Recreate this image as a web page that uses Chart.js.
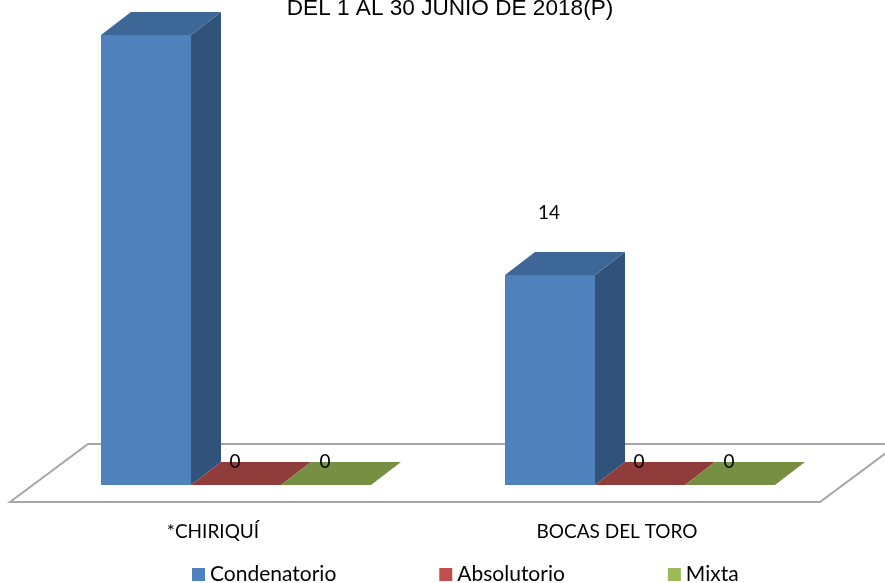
<!DOCTYPE html>
<html>
<head>
<meta charset="utf-8">
<title>Sentencias</title>
<style>
  html, body { margin: 0; padding: 0; background: #fff; overflow: hidden; }
  canvas { display: block; }
</style>
<script src="https://cdn.jsdelivr.net/npm/chart.js@4/dist/chart.umd.min.js"></script>
</head>
<body>
<canvas id="chart" width="885" height="583"></canvas>
<script>
const titleText = 'DEL 1 AL 30 JUNIO DE 2018(P)';
const categories = ['*CHIRIQUÍ', 'BOCAS DEL TORO'];
const seriesNames = ['Condenatorio', 'Absolutorio', 'Mixta'];
const condenatorio = [30, 14];
const absolutorio = [0, 0];
const mixta = [0, 0];

const legendColors = ['#4F81BD', '#C0504D', '#9BBB59'];
const sideColors = ['#31527A', '#7A3230', '#5F7A37'];
const topColors = ['#3D6797', '#8F3C3B', '#768F43'];

const LABEL_FONT = '19px Lato, Carlito, sans-serif';
const LEGEND_FONT = '21px Lato, Carlito, sans-serif';
const DEPTH_X = 30;
const DEPTH_Y = 23;

function poly(ctx, pts, fill) {
  ctx.beginPath();
  pts.forEach((p, i) => i ? ctx.lineTo(p[0], p[1]) : ctx.moveTo(p[0], p[1]));
  ctx.closePath();
  if (fill) {
    ctx.fillStyle = fill;
    ctx.fill();
  }
}

// floor plate and the 3d faces behind the bars
const box3d = {
  id: 'box3d',
  beforeDatasetsDraw(chart) {
    const { ctx, chartArea: a } = chart;
    ctx.save();
    poly(ctx, [
      [a.left - 24, a.bottom + 17],
      [a.left + 54, a.bottom - 41],
      [a.right + 56, a.bottom - 41],
      [a.right - 22, a.bottom + 17],
    ], '#fff');
    ctx.strokeStyle = '#A6A6A6';
    ctx.lineWidth = 2;
    ctx.stroke();

    chart.data.datasets.forEach((ds, i) => {
      chart.getDatasetMeta(i).data.forEach(bar => {
        const l = bar.x - bar.width / 2;
        const r = bar.x + bar.width / 2;
        const t = bar.y;
        const b = bar.base;
        poly(ctx, [[r, t], [r + DEPTH_X, t - DEPTH_Y], [r + DEPTH_X, b - DEPTH_Y], [r, b]], sideColors[i]);
        poly(ctx, [[l, t], [l + DEPTH_X, t - DEPTH_Y], [r + DEPTH_X, t - DEPTH_Y], [r, t]], topColors[i]);
      });
    });
    ctx.restore();
  },
  afterDatasetsDraw(chart) {
    const { ctx } = chart;
    ctx.save();
    ctx.fillStyle = '#000';
    ctx.textBaseline = 'middle';
    ctx.textAlign = 'center';

    // value labels, the tall bar's one falls above the picture
    ctx.font = LABEL_FONT;
    chart.data.datasets.forEach((ds, i) => {
      chart.getDatasetMeta(i).data.forEach((bar, j) => {
        const v = ds.data[j];
        const y = bar.y - (v === 0 ? 23 : 62);
        if (y > 0) ctx.fillText(String(v), bar.x - 1, y);
      });
    });

    ctx.textBaseline = 'alphabetic';
    ctx.font = '22.6px "Liberation Sans", Arial, sans-serif';
    ctx.fillText(titleText, 450, 15);

    // legend, spaced wider than the built in one can do
    ctx.textBaseline = 'middle';
    ctx.textAlign = 'left';
    ctx.font = LEGEND_FONT;
    let x = 192;
    seriesNames.forEach((name, i) => {
      ctx.fillStyle = legendColors[i];
      ctx.fillRect(x, 568, 13, 13);
      ctx.fillStyle = '#000';
      ctx.fillText(name, x + 18, 574);
      x += 19 + ctx.measureText(name).width + 102;
    });
    ctx.restore();
  },
};

new Chart(document.getElementById('chart'), {
  type: 'bar',
  data: {
    labels: categories,
    datasets: [
      { label: seriesNames[0], data: condenatorio, backgroundColor: legendColors[0] },
      { label: seriesNames[1], data: absolutorio, backgroundColor: legendColors[1] },
      { label: seriesNames[2], data: mixta, backgroundColor: legendColors[2] },
    ],
  },
  options: {
    responsive: false,
    animation: false,
    datasets: { bar: { categoryPercentage: 270 / 404, barPercentage: 1, minBarLength: 0 } },
    layout: { padding: { left: 34, right: 43, top: 35, bottom: 0 } },
    scales: {
      x: {
        grid: { display: false, drawTicks: false },
        border: { display: false },
        ticks: {
          color: '#000',
          font: { family: 'Lato, Carlito, sans-serif', size: 19 },
          padding: 35,
          labelOffset: -23,
          maxRotation: 0,
          autoSkip: false,
        },
        afterFit(scale) { scale.height = 98; },
      },
      y: { display: false, min: 0, max: 30 },
    },
    plugins: {
      legend: { display: false },
      title: { display: false },
      tooltip: { enabled: false },
    },
  },
  plugins: [box3d],
});
</script>
</body>
</html>
